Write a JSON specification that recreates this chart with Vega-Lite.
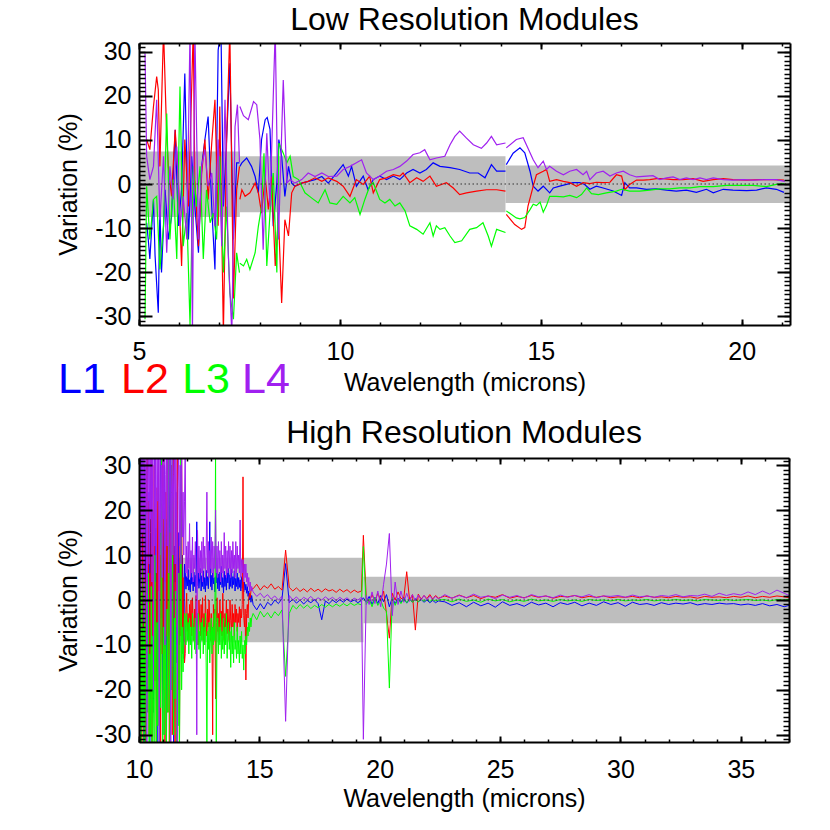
{
"$schema":"https://vega.github.io/schema/vega-lite/v6.json",
"autosize":"none",
"padding":{"left":139,"top":43,"right":691,"bottom":787},
"spacing":133,
"bounds":"flush",
"datasets":{
"lr":[
{"s":"L1","g":"A","x":5.19,"y":-8.8},{"s":"L1","g":"A","x":5.23,"y":-12.6},{"s":"L1","g":"A","x":5.27,"y":-17},{"s":"L1","g":"A","x":5.36,"y":-3.5},{"s":"L1","g":"A","x":5.4,"y":-16.3},{"s":"L1","g":"A","x":5.48,"y":-29.2},{"s":"L1","g":"A","x":5.52,"y":-5.1},{"s":"L1","g":"A","x":5.56,"y":-20.1},{"s":"L1","g":"A","x":5.65,"y":-1.3},{"s":"L1","g":"A","x":5.73,"y":-12.6},{"s":"L1","g":"A","x":5.81,"y":-7.4},{"s":"L1","g":"A","x":5.9,"y":12.3},{"s":"L1","g":"A","x":5.98,"y":-9.5},{"s":"L1","g":"A","x":6.06,"y":-1.3},{"s":"L1","g":"A","x":6.14,"y":25.1},{"s":"L1","g":"A","x":6.23,"y":-12.6},{"s":"L1","g":"A","x":6.31,"y":6.3},{"s":"L1","g":"A","x":6.39,"y":-5.1},{"s":"L1","g":"A","x":6.48,"y":-15.6},{"s":"L1","g":"A","x":6.56,"y":4},{"s":"L1","g":"A","x":6.64,"y":10.1},{"s":"L1","g":"A","x":6.72,"y":15.3},{"s":"L1","g":"A","x":6.81,"y":-5.1},{"s":"L1","g":"A","x":6.89,"y":-19.4},{"s":"L1","g":"A","x":6.97,"y":30.4},{"s":"L1","g":"A","x":7.04,"y":35},{"s":"L1","g":"A","x":7.1,"y":-5.1},{"s":"L1","g":"A","x":7.18,"y":10.1},{"s":"L1","g":"A","x":7.26,"y":27.4},{"s":"L1","g":"A","x":7.35,"y":-12.6},{"s":"L1","g":"A","x":7.43,"y":4.8},{"s":"L1","g":"A","x":7.5,"y":4.8},
{"s":"L1","g":"B","x":7.51,"y":4},{"s":"L1","g":"B","x":7.56,"y":4.8},{"s":"L1","g":"B","x":7.68,"y":5.9},{"s":"L1","g":"B","x":7.8,"y":4},{"s":"L1","g":"B","x":7.89,"y":1.7},{"s":"L1","g":"B","x":7.97,"y":-2},{"s":"L1","g":"B","x":8.05,"y":10.1},{"s":"L1","g":"B","x":8.14,"y":14.6},{"s":"L1","g":"B","x":8.19,"y":15.1},{"s":"L1","g":"B","x":8.26,"y":12.4},{"s":"L1","g":"B","x":8.34,"y":-9.6},{"s":"L1","g":"B","x":8.43,"y":0.2},{"s":"L1","g":"B","x":8.48,"y":10.1},{"s":"L1","g":"B","x":8.55,"y":6.3},{"s":"L1","g":"B","x":8.63,"y":-2.8},{"s":"L1","g":"B","x":8.72,"y":4},{"s":"L1","g":"B","x":8.8,"y":0.2},{"s":"L1","g":"B","x":8.88,"y":-0.5},{"s":"L1","g":"B","x":9.05,"y":0.2},{"s":"L1","g":"B","x":9.21,"y":0.6},{"s":"L1","g":"B","x":9.38,"y":1},{"s":"L1","g":"B","x":9.55,"y":1.7},{"s":"L1","g":"B","x":9.71,"y":0.2},{"s":"L1","g":"B","x":9.92,"y":2.5},{"s":"L1","g":"B","x":10.08,"y":4.4},{"s":"L1","g":"B","x":10.21,"y":1.8},{"s":"L1","g":"B","x":10.29,"y":4},{"s":"L1","g":"B","x":10.41,"y":-0.5},{"s":"L1","g":"B","x":10.58,"y":1.8},{"s":"L1","g":"B","x":10.7,"y":-1.3},{"s":"L1","g":"B","x":10.83,"y":1},{"s":"L1","g":"B","x":10.99,"y":1.8},{"s":"L1","g":"B","x":11.16,"y":1},{"s":"L1","g":"B","x":11.33,"y":1.8},{"s":"L1","g":"B","x":11.49,"y":1},{"s":"L1","g":"B","x":11.66,"y":2.5},{"s":"L1","g":"B","x":11.82,"y":3.3},{"s":"L1","g":"B","x":11.99,"y":2.5},{"s":"L1","g":"B","x":12.15,"y":3.3},{"s":"L1","g":"B","x":12.32,"y":4.8},{"s":"L1","g":"B","x":12.49,"y":4},{"s":"L1","g":"B","x":12.74,"y":3.7},{"s":"L1","g":"B","x":12.98,"y":3.3},{"s":"L1","g":"B","x":13.23,"y":2.5},{"s":"L1","g":"B","x":13.44,"y":2.5},{"s":"L1","g":"B","x":13.61,"y":1.4},{"s":"L1","g":"B","x":13.77,"y":4.4},{"s":"L1","g":"B","x":13.9,"y":2.9},{"s":"L1","g":"B","x":14.12,"y":2.9},
{"s":"L1","g":"C","x":14.14,"y":4.4},{"s":"L1","g":"C","x":14.31,"y":7},{"s":"L1","g":"C","x":14.48,"y":8.2},{"s":"L1","g":"C","x":14.6,"y":7.1},{"s":"L1","g":"C","x":14.73,"y":2.9},{"s":"L1","g":"C","x":14.81,"y":-0.5},{"s":"L1","g":"C","x":14.93,"y":-1.6},{"s":"L1","g":"C","x":15.06,"y":-0.5},{"s":"L1","g":"C","x":15.22,"y":-2},{"s":"L1","g":"C","x":15.31,"y":-0.9},{"s":"L1","g":"C","x":15.47,"y":-0.5},{"s":"L1","g":"C","x":15.64,"y":-0.1},{"s":"L1","g":"C","x":15.8,"y":0.3},{"s":"L1","g":"C","x":15.97,"y":0.3},{"s":"L1","g":"C","x":16.09,"y":-0.1},{"s":"L1","g":"C","x":16.22,"y":-1.2},{"s":"L1","g":"C","x":16.38,"y":-0.5},{"s":"L1","g":"C","x":16.55,"y":-0.9},{"s":"L1","g":"C","x":16.8,"y":-1.6},{"s":"L1","g":"C","x":17.01,"y":-2.6},{"s":"L1","g":"C","x":17.09,"y":0.3},{"s":"L1","g":"C","x":17.21,"y":-0.9},{"s":"L1","g":"C","x":17.38,"y":-0.9},{"s":"L1","g":"C","x":17.63,"y":-1.2},{"s":"L1","g":"C","x":17.88,"y":-1.1},{"s":"L1","g":"C","x":18.13,"y":-1.4},{"s":"L1","g":"C","x":18.37,"y":-1.6},{"s":"L1","g":"C","x":18.62,"y":-1.4},{"s":"L1","g":"C","x":18.87,"y":-1.9},{"s":"L1","g":"C","x":19.12,"y":-1.2},{"s":"L1","g":"C","x":19.29,"y":-2},{"s":"L1","g":"C","x":19.54,"y":-1.2},{"s":"L1","g":"C","x":19.78,"y":-1.4},{"s":"L1","g":"C","x":20.12,"y":-1.5},{"s":"L1","g":"C","x":20.37,"y":-1.4},{"s":"L1","g":"C","x":20.61,"y":-0.9},{"s":"L1","g":"C","x":20.86,"y":-1.2},{"s":"L1","g":"C","x":21.05,"y":-1.9},
{"s":"L2","g":"A","x":5.19,"y":10.1},{"s":"L2","g":"A","x":5.27,"y":7.8},{"s":"L2","g":"A","x":5.36,"y":17.6},{"s":"L2","g":"A","x":5.44,"y":24.4},{"s":"L2","g":"A","x":5.48,"y":21.4},{"s":"L2","g":"A","x":5.52,"y":4},{"s":"L2","g":"A","x":5.61,"y":35},{"s":"L2","g":"A","x":5.69,"y":10.8},{"s":"L2","g":"A","x":5.73,"y":4},{"s":"L2","g":"A","x":5.81,"y":-2.8},{"s":"L2","g":"A","x":5.9,"y":12.3},{"s":"L2","g":"A","x":5.98,"y":1},{"s":"L2","g":"A","x":6.06,"y":-18.6},{"s":"L2","g":"A","x":6.14,"y":10.1},{"s":"L2","g":"A","x":6.23,"y":-5.1},{"s":"L2","g":"A","x":6.35,"y":35},{"s":"L2","g":"A","x":6.39,"y":1},{"s":"L2","g":"A","x":6.48,"y":-14.1},{"s":"L2","g":"A","x":6.56,"y":2.5},{"s":"L2","g":"A","x":6.64,"y":10.1},{"s":"L2","g":"A","x":6.72,"y":-3.5},{"s":"L2","g":"A","x":6.81,"y":9.3},{"s":"L2","g":"A","x":6.89,"y":19.1},{"s":"L2","g":"A","x":6.97,"y":-9.5},{"s":"L2","g":"A","x":7.01,"y":17.6},{"s":"L2","g":"A","x":7.1,"y":-34},{"s":"L2","g":"A","x":7.18,"y":10.1},{"s":"L2","g":"A","x":7.26,"y":35},{"s":"L2","g":"A","x":7.35,"y":-26},{"s":"L2","g":"A","x":7.43,"y":-1.3},{"s":"L2","g":"A","x":7.5,"y":4},
{"s":"L2","g":"B","x":7.51,"y":-3.5},{"s":"L2","g":"B","x":7.56,"y":-1.3},{"s":"L2","g":"B","x":7.64,"y":-2.8},{"s":"L2","g":"B","x":7.76,"y":-2},{"s":"L2","g":"B","x":7.89,"y":0.2},{"s":"L2","g":"B","x":7.97,"y":-2},{"s":"L2","g":"B","x":8.05,"y":-6.6},{"s":"L2","g":"B","x":8.14,"y":1.7},{"s":"L2","g":"B","x":8.22,"y":-5.8},{"s":"L2","g":"B","x":8.3,"y":1.7},{"s":"L2","g":"B","x":8.39,"y":-18.6},{"s":"L2","g":"B","x":8.47,"y":-7.4},{"s":"L2","g":"B","x":8.55,"y":-27},{"s":"L2","g":"B","x":8.63,"y":-8.1},{"s":"L2","g":"B","x":8.72,"y":-11.8},{"s":"L2","g":"B","x":8.8,"y":-2},{"s":"L2","g":"B","x":8.88,"y":-0.5},{"s":"L2","g":"B","x":9.05,"y":0.2},{"s":"L2","g":"B","x":9.21,"y":0.6},{"s":"L2","g":"B","x":9.38,"y":1.4},{"s":"L2","g":"B","x":9.55,"y":0.6},{"s":"L2","g":"B","x":9.71,"y":1.4},{"s":"L2","g":"B","x":9.92,"y":0.6},{"s":"L2","g":"B","x":10.08,"y":-0.5},{"s":"L2","g":"B","x":10.25,"y":-2.8},{"s":"L2","g":"B","x":10.41,"y":1},{"s":"L2","g":"B","x":10.58,"y":-0.1},{"s":"L2","g":"B","x":10.74,"y":1.8},{"s":"L2","g":"B","x":10.83,"y":-2},{"s":"L2","g":"B","x":10.99,"y":1},{"s":"L2","g":"B","x":11.16,"y":1.4},{"s":"L2","g":"B","x":11.33,"y":2.1},{"s":"L2","g":"B","x":11.49,"y":1.8},{"s":"L2","g":"B","x":11.57,"y":2.5},{"s":"L2","g":"B","x":11.74,"y":0.3},{"s":"L2","g":"B","x":11.91,"y":1.4},{"s":"L2","g":"B","x":12.07,"y":0.6},{"s":"L2","g":"B","x":12.24,"y":1.8},{"s":"L2","g":"B","x":12.4,"y":-0.5},{"s":"L2","g":"B","x":12.65,"y":0.3},{"s":"L2","g":"B","x":12.82,"y":-0.9},{"s":"L2","g":"B","x":12.98,"y":-2.4},{"s":"L2","g":"B","x":13.15,"y":-2},{"s":"L2","g":"B","x":13.4,"y":-1.6},{"s":"L2","g":"B","x":13.65,"y":-1.3},{"s":"L2","g":"B","x":13.9,"y":-1.3},{"s":"L2","g":"B","x":14.12,"y":-1.6},
{"s":"L2","g":"C","x":14.14,"y":-6.9},{"s":"L2","g":"C","x":14.35,"y":-9.2},{"s":"L2","g":"C","x":14.52,"y":-10.3},{"s":"L2","g":"C","x":14.6,"y":-9.9},{"s":"L2","g":"C","x":14.68,"y":-5},{"s":"L2","g":"C","x":14.81,"y":-0.5},{"s":"L2","g":"C","x":14.89,"y":2.1},{"s":"L2","g":"C","x":15.06,"y":2.9},{"s":"L2","g":"C","x":15.14,"y":3.3},{"s":"L2","g":"C","x":15.22,"y":0.6},{"s":"L2","g":"C","x":15.39,"y":1},{"s":"L2","g":"C","x":15.56,"y":0.6},{"s":"L2","g":"C","x":15.72,"y":0.3},{"s":"L2","g":"C","x":15.89,"y":-0.5},{"s":"L2","g":"C","x":16.05,"y":0.3},{"s":"L2","g":"C","x":16.22,"y":0.1},{"s":"L2","g":"C","x":16.38,"y":0.4},{"s":"L2","g":"C","x":16.55,"y":0.3},{"s":"L2","g":"C","x":16.72,"y":0.4},{"s":"L2","g":"C","x":16.88,"y":2.1},{"s":"L2","g":"C","x":17.01,"y":1.8},{"s":"L2","g":"C","x":17.09,"y":-1.3},{"s":"L2","g":"C","x":17.21,"y":-0.1},{"s":"L2","g":"C","x":17.38,"y":0.9},{"s":"L2","g":"C","x":17.55,"y":0.9},{"s":"L2","g":"C","x":17.71,"y":1},{"s":"L2","g":"C","x":17.88,"y":1.2},{"s":"L2","g":"C","x":18.04,"y":1.2},{"s":"L2","g":"C","x":18.29,"y":1},{"s":"L2","g":"C","x":18.54,"y":1},{"s":"L2","g":"C","x":18.79,"y":1.2},{"s":"L2","g":"C","x":19.04,"y":0.6},{"s":"L2","g":"C","x":19.29,"y":1},{"s":"L2","g":"C","x":19.54,"y":1.2},{"s":"L2","g":"C","x":19.78,"y":1},{"s":"L2","g":"C","x":20.12,"y":0.9},{"s":"L2","g":"C","x":20.45,"y":1},{"s":"L2","g":"C","x":20.78,"y":1},{"s":"L2","g":"C","x":21.05,"y":0.9},
{"s":"L3","g":"A","x":5.15,"y":-30.7},{"s":"L3","g":"A","x":5.19,"y":-0.5},{"s":"L3","g":"A","x":5.27,"y":-12.6},{"s":"L3","g":"A","x":5.36,"y":-3.5},{"s":"L3","g":"A","x":5.44,"y":-2.8},{"s":"L3","g":"A","x":5.52,"y":-19.4},{"s":"L3","g":"A","x":5.61,"y":-9.5},{"s":"L3","g":"A","x":5.69,"y":16},{"s":"L3","g":"A","x":5.77,"y":-12.6},{"s":"L3","g":"A","x":5.85,"y":1},{"s":"L3","g":"A","x":5.94,"y":-17},{"s":"L3","g":"A","x":6.02,"y":22.1},{"s":"L3","g":"A","x":6.1,"y":-14.1},{"s":"L3","g":"A","x":6.19,"y":-6.6},{"s":"L3","g":"A","x":6.27,"y":-32},{"s":"L3","g":"A","x":6.35,"y":4},{"s":"L3","g":"A","x":6.43,"y":-5.1},{"s":"L3","g":"A","x":6.52,"y":4},{"s":"L3","g":"A","x":6.6,"y":-17},{"s":"L3","g":"A","x":6.68,"y":-1.3},{"s":"L3","g":"A","x":6.77,"y":-8.8},{"s":"L3","g":"A","x":6.85,"y":-6.6},{"s":"L3","g":"A","x":6.93,"y":-12.6},{"s":"L3","g":"A","x":7.01,"y":6.3},{"s":"L3","g":"A","x":7.1,"y":-20.1},{"s":"L3","g":"A","x":7.18,"y":-5.1},{"s":"L3","g":"A","x":7.26,"y":-24.7},{"s":"L3","g":"A","x":7.35,"y":-30.7},{"s":"L3","g":"A","x":7.43,"y":-15.6},{"s":"L3","g":"A","x":7.5,"y":-20.1},
{"s":"L3","g":"B","x":7.51,"y":-18},{"s":"L3","g":"B","x":7.6,"y":-18.6},{"s":"L3","g":"B","x":7.68,"y":-17.1},{"s":"L3","g":"B","x":7.76,"y":-19.4},{"s":"L3","g":"B","x":7.89,"y":-15.6},{"s":"L3","g":"B","x":7.97,"y":-9.6},{"s":"L3","g":"B","x":8.05,"y":-5.1},{"s":"L3","g":"B","x":8.11,"y":7},{"s":"L3","g":"B","x":8.18,"y":-18.6},{"s":"L3","g":"B","x":8.26,"y":-6.6},{"s":"L3","g":"B","x":8.34,"y":2.5},{"s":"L3","g":"B","x":8.43,"y":-20.1},{"s":"L3","g":"B","x":8.48,"y":9.3},{"s":"L3","g":"B","x":8.59,"y":7},{"s":"L3","g":"B","x":8.68,"y":4.8},{"s":"L3","g":"B","x":8.76,"y":6.3},{"s":"L3","g":"B","x":8.84,"y":1.7},{"s":"L3","g":"B","x":8.97,"y":1},{"s":"L3","g":"B","x":9.13,"y":-2},{"s":"L3","g":"B","x":9.3,"y":-3.2},{"s":"L3","g":"B","x":9.46,"y":-4.3},{"s":"L3","g":"B","x":9.63,"y":-1.3},{"s":"L3","g":"B","x":9.75,"y":-4.3},{"s":"L3","g":"B","x":9.92,"y":-4.6},{"s":"L3","g":"B","x":10.08,"y":-2.8},{"s":"L3","g":"B","x":10.25,"y":-4.3},{"s":"L3","g":"B","x":10.37,"y":-3.1},{"s":"L3","g":"B","x":10.5,"y":-6.9},{"s":"L3","g":"B","x":10.62,"y":-3.5},{"s":"L3","g":"B","x":10.74,"y":-0.5},{"s":"L3","g":"B","x":10.83,"y":0.3},{"s":"L3","g":"B","x":10.99,"y":-3.5},{"s":"L3","g":"B","x":11.12,"y":-4.3},{"s":"L3","g":"B","x":11.24,"y":-3.5},{"s":"L3","g":"B","x":11.37,"y":-5},{"s":"L3","g":"B","x":11.49,"y":-4.3},{"s":"L3","g":"B","x":11.62,"y":-6.1},{"s":"L3","g":"B","x":11.74,"y":-9.5},{"s":"L3","g":"B","x":11.91,"y":-10.3},{"s":"L3","g":"B","x":12.07,"y":-11.4},{"s":"L3","g":"B","x":12.24,"y":-8.8},{"s":"L3","g":"B","x":12.32,"y":-11.8},{"s":"L3","g":"B","x":12.4,"y":-9.5},{"s":"L3","g":"B","x":12.49,"y":-10.3},{"s":"L3","g":"B","x":12.61,"y":-9.9},{"s":"L3","g":"B","x":12.74,"y":-11.8},{"s":"L3","g":"B","x":12.86,"y":-13.3},{"s":"L3","g":"B","x":13.03,"y":-12.9},{"s":"L3","g":"B","x":13.23,"y":-10.3},{"s":"L3","g":"B","x":13.4,"y":-9.9},{"s":"L3","g":"B","x":13.56,"y":-8.8},{"s":"L3","g":"B","x":13.69,"y":-11.8},{"s":"L3","g":"B","x":13.77,"y":-14.1},{"s":"L3","g":"B","x":13.9,"y":-10.3},{"s":"L3","g":"B","x":14.12,"y":-11},
{"s":"L3","g":"C","x":14.14,"y":-6.1},{"s":"L3","g":"C","x":14.39,"y":-7.7},{"s":"L3","g":"C","x":14.48,"y":-7.9},{"s":"L3","g":"C","x":14.6,"y":-7.6},{"s":"L3","g":"C","x":14.73,"y":-5.8},{"s":"L3","g":"C","x":14.81,"y":-4.6},{"s":"L3","g":"C","x":14.89,"y":-4.9},{"s":"L3","g":"C","x":14.98,"y":-4.1},{"s":"L3","g":"C","x":15.06,"y":-6.4},{"s":"L3","g":"C","x":15.14,"y":-4.9},{"s":"L3","g":"C","x":15.22,"y":-2.8},{"s":"L3","g":"C","x":15.39,"y":-2.8},{"s":"L3","g":"C","x":15.56,"y":-2.9},{"s":"L3","g":"C","x":15.72,"y":-2.6},{"s":"L3","g":"C","x":15.89,"y":-3.1},{"s":"L3","g":"C","x":16.01,"y":-2.4},{"s":"L3","g":"C","x":16.14,"y":-0.9},{"s":"L3","g":"C","x":16.26,"y":-2.2},{"s":"L3","g":"C","x":16.43,"y":-2.4},{"s":"L3","g":"C","x":16.63,"y":-2},{"s":"L3","g":"C","x":16.88,"y":-1.6},{"s":"L3","g":"C","x":17.01,"y":-1.2},{"s":"L3","g":"C","x":17.21,"y":-1.6},{"s":"L3","g":"C","x":17.46,"y":-1.6},{"s":"L3","g":"C","x":17.71,"y":-1.4},{"s":"L3","g":"C","x":17.96,"y":-1.1},{"s":"L3","g":"C","x":18.21,"y":-1.1},{"s":"L3","g":"C","x":18.46,"y":-0.9},{"s":"L3","g":"C","x":18.71,"y":-0.9},{"s":"L3","g":"C","x":18.96,"y":-0.6},{"s":"L3","g":"C","x":19.29,"y":-0.6},{"s":"L3","g":"C","x":19.62,"y":-0.3},{"s":"L3","g":"C","x":19.95,"y":-0.3},{"s":"L3","g":"C","x":20.28,"y":-0.3},{"s":"L3","g":"C","x":20.61,"y":-0.6},{"s":"L3","g":"C","x":20.86,"y":-0.1},{"s":"L3","g":"C","x":21.05,"y":0.1},
{"s":"L4","g":"A","x":5.15,"y":29.6},{"s":"L4","g":"A","x":5.19,"y":6.3},{"s":"L4","g":"A","x":5.27,"y":1},{"s":"L4","g":"A","x":5.36,"y":4},{"s":"L4","g":"A","x":5.44,"y":19.1},{"s":"L4","g":"A","x":5.52,"y":-8.1},{"s":"L4","g":"A","x":5.61,"y":6.3},{"s":"L4","g":"A","x":5.69,"y":-15.6},{"s":"L4","g":"A","x":5.77,"y":4},{"s":"L4","g":"A","x":5.85,"y":-3.5},{"s":"L4","g":"A","x":5.94,"y":8.5},{"s":"L4","g":"A","x":6.02,"y":-9.5},{"s":"L4","g":"A","x":6.1,"y":-2.8},{"s":"L4","g":"A","x":6.19,"y":-12.6},{"s":"L4","g":"A","x":6.27,"y":35},{"s":"L4","g":"A","x":6.33,"y":-34},{"s":"L4","g":"A","x":6.39,"y":35},{"s":"L4","g":"A","x":6.48,"y":-12.6},{"s":"L4","g":"A","x":6.56,"y":4},{"s":"L4","g":"A","x":6.64,"y":7.8},{"s":"L4","g":"A","x":6.72,"y":-0.5},{"s":"L4","g":"A","x":6.81,"y":2.5},{"s":"L4","g":"A","x":6.89,"y":-9.5},{"s":"L4","g":"A","x":6.97,"y":10.1},{"s":"L4","g":"A","x":7.06,"y":-14.1},{"s":"L4","g":"A","x":7.14,"y":19.1},{"s":"L4","g":"A","x":7.22,"y":-15.6},{"s":"L4","g":"A","x":7.31,"y":-34},{"s":"L4","g":"A","x":7.39,"y":13},{"s":"L4","g":"A","x":7.45,"y":18},{"s":"L4","g":"A","x":7.5,"y":5},
{"s":"L4","g":"B","x":7.51,"y":17.6},{"s":"L4","g":"B","x":7.6,"y":15.5},{"s":"L4","g":"B","x":7.72,"y":14.6},{"s":"L4","g":"B","x":7.85,"y":18.7},{"s":"L4","g":"B","x":7.93,"y":18},{"s":"L4","g":"B","x":8.01,"y":10.1},{"s":"L4","g":"B","x":8.09,"y":-14.9},{"s":"L4","g":"B","x":8.18,"y":11.5},{"s":"L4","g":"B","x":8.26,"y":-5.1},{"s":"L4","g":"B","x":8.39,"y":35},{"s":"L4","g":"B","x":8.47,"y":-12.6},{"s":"L4","g":"B","x":8.59,"y":23.6},{"s":"L4","g":"B","x":8.68,"y":0.2},{"s":"L4","g":"B","x":8.76,"y":1},{"s":"L4","g":"B","x":8.88,"y":0.2},{"s":"L4","g":"B","x":9.05,"y":1},{"s":"L4","g":"B","x":9.21,"y":2.5},{"s":"L4","g":"B","x":9.38,"y":1.7},{"s":"L4","g":"B","x":9.55,"y":2.5},{"s":"L4","g":"B","x":9.71,"y":1.7},{"s":"L4","g":"B","x":9.92,"y":1.8},{"s":"L4","g":"B","x":10.08,"y":3.3},{"s":"L4","g":"B","x":10.25,"y":4},{"s":"L4","g":"B","x":10.41,"y":4.8},{"s":"L4","g":"B","x":10.54,"y":5.5},{"s":"L4","g":"B","x":10.66,"y":2.5},{"s":"L4","g":"B","x":10.83,"y":1},{"s":"L4","g":"B","x":10.99,"y":1.8},{"s":"L4","g":"B","x":11.16,"y":2.9},{"s":"L4","g":"B","x":11.33,"y":3.3},{"s":"L4","g":"B","x":11.49,"y":4},{"s":"L4","g":"B","x":11.66,"y":5.2},{"s":"L4","g":"B","x":11.82,"y":6.7},{"s":"L4","g":"B","x":11.99,"y":7.1},{"s":"L4","g":"B","x":12.11,"y":7.8},{"s":"L4","g":"B","x":12.24,"y":5.5},{"s":"L4","g":"B","x":12.4,"y":5.9},{"s":"L4","g":"B","x":12.61,"y":6.3},{"s":"L4","g":"B","x":12.74,"y":8.9},{"s":"L4","g":"B","x":12.86,"y":10.8},{"s":"L4","g":"B","x":12.98,"y":12},{"s":"L4","g":"B","x":13.15,"y":10.4},{"s":"L4","g":"B","x":13.32,"y":8.9},{"s":"L4","g":"B","x":13.52,"y":8.1},{"s":"L4","g":"B","x":13.65,"y":9.3},{"s":"L4","g":"B","x":13.77,"y":10.8},{"s":"L4","g":"B","x":13.9,"y":8.9},{"s":"L4","g":"B","x":14.12,"y":9.3},
{"s":"L4","g":"C","x":14.14,"y":8.2},{"s":"L4","g":"C","x":14.39,"y":10.1},{"s":"L4","g":"C","x":14.56,"y":10.5},{"s":"L4","g":"C","x":14.64,"y":8.9},{"s":"L4","g":"C","x":14.81,"y":5.5},{"s":"L4","g":"C","x":14.93,"y":3.7},{"s":"L4","g":"C","x":15.06,"y":5.2},{"s":"L4","g":"C","x":15.14,"y":3.3},{"s":"L4","g":"C","x":15.22,"y":4},{"s":"L4","g":"C","x":15.39,"y":2.9},{"s":"L4","g":"C","x":15.56,"y":2.1},{"s":"L4","g":"C","x":15.72,"y":2.9},{"s":"L4","g":"C","x":15.89,"y":3.3},{"s":"L4","g":"C","x":16.05,"y":2.1},{"s":"L4","g":"C","x":16.14,"y":2.9},{"s":"L4","g":"C","x":16.22,"y":1},{"s":"L4","g":"C","x":16.38,"y":2.5},{"s":"L4","g":"C","x":16.55,"y":2.9},{"s":"L4","g":"C","x":16.72,"y":1.8},{"s":"L4","g":"C","x":16.88,"y":2.5},{"s":"L4","g":"C","x":17.05,"y":2.9},{"s":"L4","g":"C","x":17.21,"y":2.1},{"s":"L4","g":"C","x":17.38,"y":1.6},{"s":"L4","g":"C","x":17.63,"y":1.8},{"s":"L4","g":"C","x":17.79,"y":1.9},{"s":"L4","g":"C","x":17.96,"y":1},{"s":"L4","g":"C","x":18.13,"y":1.4},{"s":"L4","g":"C","x":18.29,"y":1.6},{"s":"L4","g":"C","x":18.46,"y":1},{"s":"L4","g":"C","x":18.62,"y":1.4},{"s":"L4","g":"C","x":18.79,"y":1},{"s":"L4","g":"C","x":18.96,"y":1.4},{"s":"L4","g":"C","x":19.12,"y":1},{"s":"L4","g":"C","x":19.29,"y":1.4},{"s":"L4","g":"C","x":19.54,"y":1},{"s":"L4","g":"C","x":19.78,"y":0.9},{"s":"L4","g":"C","x":20.03,"y":1},{"s":"L4","g":"C","x":20.28,"y":0.9},{"s":"L4","g":"C","x":20.61,"y":1},{"s":"L4","g":"C","x":20.86,"y":1},{"s":"L4","g":"C","x":21.07,"y":0.6}
],
"hr":[
{"x":10.0,"L1":12,"L2":-8,"L3":-35,"L4":35},{"x":10.03,"L1":-30,"L2":20,"L3":5,"L4":10},{"x":10.06,"L1":25,"L2":35,"L3":-20,"L4":35},{"x":10.09,"L1":5,"L2":-15,"L3":-35,"L4":2},{"x":10.12,"L1":35,"L2":-35,"L3":8,"L4":35},{"x":10.15,"L1":-12,"L2":10,"L3":-28,"L4":15},{"x":10.18,"L1":18,"L2":28,"L3":-6,"L4":35},{"x":10.21,"L1":-35,"L2":-20,"L3":-35,"L4":-5},{"x":10.24,"L1":30,"L2":5,"L3":4,"L4":35},{"x":10.27,"L1":8,"L2":-35,"L3":-18,"L4":20},{"x":10.3,"L1":-20,"L2":15,"L3":-35,"L4":35},{"x":10.33,"L1":35,"L2":35,"L3":-4,"L4":-35},{"x":10.36,"L1":2,"L2":-10,"L3":-25,"L4":28},{"x":10.39,"L1":-15,"L2":22,"L3":6,"L4":35},{"x":10.42,"L1":24,"L2":-30,"L3":-35,"L4":8},{"x":10.45,"L1":-35,"L2":6,"L3":-12,"L4":35},{"x":10.48,"L1":15,"L2":-22,"L3":-30,"L4":18},{"x":10.51,"L1":35,"L2":35,"L3":3,"L4":35},{"x":10.54,"L1":-6,"L2":-35,"L3":-35,"L4":4},{"x":10.57,"L1":20,"L2":12,"L3":-8,"L4":35},{"x":10.6,"L1":-25,"L2":-8,"L3":-22,"L4":-20},{"x":10.63,"L1":10,"L2":30,"L3":-35,"L4":32},{"x":10.66,"L1":32,"L2":-18,"L3":10,"L4":12},{"x":10.69,"L1":-10,"L2":4,"L3":-15,"L4":35},{"x":10.72,"L1":16,"L2":-35,"L3":-35,"L4":6},{"x":10.75,"L1":-35,"L2":25,"L3":-5,"L4":35},{"x":10.78,"L1":8,"L2":-5,"L3":-28,"L4":22},{"x":10.81,"L1":28,"L2":35,"L3":2,"L4":35},{"x":10.84,"L1":-18,"L2":-28,"L3":-35,"L4":-35},{"x":10.87,"L1":14,"L2":10,"L3":-10,"L4":35},{"x":10.9,"L1":35,"L2":-35,"L3":-24,"L4":15},{"x":10.93,"L1":-4,"L2":18,"L3":35,"L4":30},{"x":10.96,"L1":22,"L2":-12,"L3":-18,"L4":5},{"x":10.99,"L1":-30,"L2":35,"L3":-35,"L4":35},{"x":11.02,"L1":6,"L2":-20,"L3":-6,"L4":18},{"x":11.05,"L1":30,"L2":2,"L3":-30,"L4":35},{"x":11.08,"L1":-12,"L2":-35,"L3":4,"L4":-10},{"x":11.11,"L1":18,"L2":24,"L3":-20,"L4":28},{"x":11.14,"L1":-35,"L2":-8,"L3":-35,"L4":35},{"x":11.17,"L1":10,"L2":35,"L3":-2,"L4":12},{"x":11.2,"L1":26,"L2":-25,"L3":-25,"L4":35},{"x":11.23,"L1":-8,"L2":6,"L3":35,"L4":6},{"x":11.26,"L1":16,"L2":-35,"L3":-12,"L4":30},{"x":11.29,"L1":35,"L2":15,"L3":-35,"L4":35},{"x":11.32,"L1":-20,"L2":-10,"L3":-8,"L4":-35},{"x":11.35,"L1":8,"L2":30,"L3":-20,"L4":24},{"x":11.38,"L1":-5,"L2":-30,"L3":35,"L4":35},{"x":11.41,"L1":20,"L2":4,"L3":-15,"L4":10},{"x":11.44,"L1":-35,"L2":35,"L3":-30,"L4":28},{"x":11.47,"L1":12,"L2":-15,"L3":-4,"L4":35},{"x":11.5,"L1":4,"L2":-35,"L3":-22,"L4":8},{"x":11.53,"L1":24,"L2":8,"L3":2,"L4":35},{"x":11.56,"L1":-14,"L2":-6,"L3":-35,"L4":16},{"x":11.59,"L1":9,"L2":35,"L3":-10,"L4":-35},{"x":11.62,"L1":-4,"L2":-20,"L3":-28,"L4":25},{"x":11.65,"L1":15,"L2":2,"L3":6,"L4":35},{"x":11.68,"L1":-10,"L2":-35,"L3":-35,"L4":12},{"x":11.71,"L1":6,"L2":12,"L3":-12,"L4":30},{"x":11.74,"L1":18,"L2":-8,"L3":35,"L4":8},{"x":11.77,"L1":-6,"L2":35,"L3":-20,"L4":35},{"x":11.8,"L1":10,"L2":-12,"L3":-6,"L4":14},{"x":11.83,"L1":2,"L2":5,"L3":-16,"L4":24},{"x":11.86,"L1":-13,"L2":-8,"L3":-9,"L4":10},{"x":11.89,"L1":8,"L2":-14,"L3":-3,"L4":22},
{"x":11.92,"L1":6.5,"L2":-11.9,"L3":-4,"L4":35},{"x":11.95,"L1":2.4,"L2":-2,"L3":-10,"L4":6},{"x":11.98,"L1":5.2,"L2":1.5,"L3":-3,"L4":12},{"x":12.01,"L1":3.1,"L2":-7,"L3":-9,"L4":5},{"x":12.04,"L1":6.8,"L2":-3,"L3":-5,"L4":13},{"x":12.07,"L1":2.2,"L2":-9,"L3":-12,"L4":7},{"x":12.1,"L1":4.5,"L2":-1,"L3":-4,"L4":17},{"x":12.13,"L1":1.8,"L2":-6,"L3":-10,"L4":5},{"x":12.16,"L1":7.2,"L2":0,"L3":-6,"L4":11},{"x":12.19,"L1":3.5,"L2":-8,"L3":-13,"L4":6},{"x":12.22,"L1":5,"L2":0.5,"L3":-3,"L4":14},{"x":12.25,"L1":2,"L2":-5,"L3":-9,"L4":4},{"x":12.28,"L1":6.2,"L2":-9,"L3":-6,"L4":10},{"x":12.31,"L1":3,"L2":-2,"L3":-11,"L4":7},{"x":12.34,"L1":5.5,"L2":-6,"L3":-4,"L4":13},{"x":12.37,"L1":1.6,"L2":1,"L3":-12,"L4":5},{"x":12.4,"L1":17.4,"L2":-7,"L3":-6,"L4":-30},{"x":12.43,"L1":3.2,"L2":-3,"L3":-10,"L4":15.5},{"x":12.46,"L1":6,"L2":-10,"L3":-3,"L4":6},{"x":12.49,"L1":2.6,"L2":0,"L3":-11,"L4":12},{"x":12.52,"L1":4.8,"L2":-4,"L3":-7,"L4":5},{"x":12.55,"L1":7,"L2":-8,"L3":-13,"L4":11},{"x":12.58,"L1":2,"L2":-1,"L3":-5,"L4":6},{"x":12.61,"L1":5.4,"L2":-6.5,"L3":-9,"L4":13},{"x":12.64,"L1":3,"L2":0.5,"L3":-4,"L4":4},{"x":12.67,"L1":6.5,"L2":-9,"L3":-12,"L4":14},{"x":12.7,"L1":2.4,"L2":-3,"L3":-6,"L4":7},{"x":12.73,"L1":5,"L2":-7,"L3":-10,"L4":12},{"x":12.76,"L1":1.8,"L2":1,"L3":-3,"L4":5},{"x":12.79,"L1":6.6,"L2":-5,"L3":-14,"L4":10},{"x":12.82,"L1":3.2,"L2":-8,"L3":-33,"L4":24},{"x":12.85,"L1":5.2,"L2":-2,"L3":-7,"L4":6},{"x":12.88,"L1":2.5,"L2":-6,"L3":-11,"L4":13},{"x":12.91,"L1":6.8,"L2":0,"L3":-5,"L4":5},{"x":12.94,"L1":17.4,"L2":-5,"L3":-14,"L4":11},{"x":12.97,"L1":3,"L2":-9,"L3":-8,"L4":7},{"x":13.0,"L1":5.5,"L2":-3,"L3":-4,"L4":14},{"x":13.03,"L1":2.2,"L2":-7,"L3":-12,"L4":6},{"x":13.06,"L1":6,"L2":-30,"L3":-6,"L4":13},{"x":13.09,"L1":3.6,"L2":-1,"L3":-10,"L4":5},{"x":13.12,"L1":5,"L2":-6,"L3":-3,"L4":12},{"x":13.15,"L1":1.8,"L2":-2,"L3":-9,"L4":7},{"x":13.18,"L1":5.2,"L2":-22,"L3":35,"L4":20},{"x":13.21,"L1":3.8,"L2":-5,"L3":-33,"L4":6},{"x":13.24,"L1":6.8,"L2":0.5,"L3":-8,"L4":12},{"x":13.27,"L1":2.5,"L2":-7,"L3":-4,"L4":5},{"x":13.3,"L1":5.8,"L2":-3,"L3":-12,"L4":13},{"x":13.33,"L1":2,"L2":-9,"L3":-6,"L4":7},{"x":13.36,"L1":6.2,"L2":0,"L3":-10,"L4":11},{"x":13.39,"L1":3.4,"L2":-6,"L3":-3,"L4":4},{"x":13.42,"L1":7.5,"L2":-2.5,"L3":-13,"L4":13},{"x":13.45,"L1":2.8,"L2":-8,"L3":-7,"L4":6},{"x":13.48,"L1":5,"L2":1.5,"L3":-11,"L4":10},{"x":13.51,"L1":1.6,"L2":-5,"L3":-4,"L4":5},{"x":13.54,"L1":6.4,"L2":-9,"L3":-12,"L4":15},{"x":13.57,"L1":3,"L2":-3,"L3":-6,"L4":7},{"x":13.6,"L1":5.5,"L2":-6,"L3":-10,"L4":12},{"x":13.63,"L1":2.2,"L2":0,"L3":-3,"L4":5},{"x":13.66,"L1":6.2,"L2":-7.5,"L3":-13,"L4":11},{"x":13.69,"L1":3.8,"L2":-2,"L3":-8,"L4":6},{"x":13.72,"L1":7,"L2":-5.5,"L3":-5,"L4":13},{"x":13.75,"L1":2.4,"L2":-9,"L3":-11,"L4":7},{"x":13.78,"L1":5.6,"L2":0,"L3":-7,"L4":12},{"x":13.81,"L1":3,"L2":-4.5,"L3":-15,"L4":5},{"x":13.84,"L1":6.8,"L2":-7,"L3":-6,"L4":11},{"x":13.87,"L1":2.6,"L2":-1,"L3":-12,"L4":6},{"x":13.9,"L1":5.2,"L2":-6,"L3":-8,"L4":13},{"x":13.93,"L1":3.4,"L2":-3,"L3":-14,"L4":7},{"x":13.96,"L1":6.5,"L2":-8,"L3":-5,"L4":10},{"x":13.99,"L1":2,"L2":-1,"L3":-11,"L4":5},{"x":14.02,"L1":4.8,"L2":-5,"L3":-9,"L4":13},{"x":14.05,"L1":3,"L2":-2,"L3":-13,"L4":6},{"x":14.08,"L1":6,"L2":-7,"L3":-6,"L4":12},{"x":14.11,"L1":2.4,"L2":-3,"L3":-12,"L4":7},{"x":14.14,"L1":5,"L2":-5,"L3":-9,"L4":10},{"x":14.17,"L1":2.8,"L2":-1.5,"L3":-14,"L4":6},{"x":14.2,"L1":4.5,"L2":-6,"L3":-8,"L4":17.8},{"x":14.23,"L1":2,"L2":-2,"L3":-12,"L4":5},{"x":14.26,"L1":5.2,"L2":-4,"L3":-7,"L4":9},{"x":14.29,"L1":2.6,"L2":-1,"L3":-13,"L4":6},{"x":14.32,"L1":4.8,"L2":27.4,"L3":-10,"L4":9},{"x":14.35,"L1":1.8,"L2":-3.5,"L3":-15.6,"L4":4},{"x":14.38,"L1":4,"L2":-6,"L3":-9,"L4":8},{"x":14.41,"L1":2.2,"L2":-2,"L3":-12,"L4":5},{"x":14.44,"L1":3.5,"L2":-17.8,"L3":-8,"L4":8},{"x":14.47,"L1":1.5,"L2":-3,"L3":-10,"L4":4},{"x":14.5,"L1":3,"L2":-1,"L3":-6,"L4":6},{"x":14.53,"L1":0.8,"L2":-4,"L3":-8,"L4":3},{"x":14.56,"L1":2,"L2":0.5,"L3":-5,"L4":5},{"x":14.59,"L1":0,"L2":1.5,"L3":-7,"L4":2},{"x":14.62,"L1":1.2,"L2":0.5,"L3":-4,"L4":4},{"x":14.65,"L1":-0.5,"L2":2,"L3":-6,"L4":2},{"x":14.68,"L1":1,"L2":2.5,"L3":-4,"L4":3},
{"x":14.74,"L1":-1,"L2":2.5,"L3":-3,"L4":1.8},{"x":14.89,"L1":-2.2,"L2":3.5,"L3":-4.4,"L4":0.8},{"x":15.04,"L1":-0.8,"L2":2.2,"L3":-2.5,"L4":1.5},{"x":15.19,"L1":-2,"L2":3.2,"L3":-3.8,"L4":0.5},{"x":15.34,"L1":-0.5,"L2":2.6,"L3":-2.8,"L4":1.2},{"x":15.49,"L1":-1.2,"L2":3.6,"L3":-4,"L4":0.2},{"x":15.64,"L1":0,"L2":2.4,"L3":-2.6,"L4":0.9},{"x":15.79,"L1":-0.8,"L2":3,"L3":-3.5,"L4":0},{"x":15.94,"L1":0.3,"L2":2.2,"L3":-2.2,"L4":0.8},{"x":16.09,"L1":8.1,"L2":11.1,"L3":-17,"L4":-27},{"x":16.24,"L1":-0.6,"L2":2.8,"L3":-3,"L4":1},{"x":16.39,"L1":0.2,"L2":2,"L3":-1.2,"L4":0},{"x":16.54,"L1":-0.7,"L2":2.7,"L3":-2,"L4":0.7},{"x":16.69,"L1":0,"L2":1.9,"L3":-1,"L4":-0.2},{"x":16.84,"L1":-0.9,"L2":2.5,"L3":-1.8,"L4":0.6},{"x":16.99,"L1":-0.1,"L2":1.8,"L3":-1.1,"L4":0.1},{"x":17.14,"L1":-0.6,"L2":2.6,"L3":-1.9,"L4":0.8},{"x":17.29,"L1":0.1,"L2":1.9,"L3":-1.2,"L4":-0.1},{"x":17.44,"L1":-0.8,"L2":2.4,"L3":-1.7,"L4":0.5},{"x":17.59,"L1":-4.4,"L2":1.8,"L3":-1,"L4":0},{"x":17.74,"L1":-0.2,"L2":2.5,"L3":-1.6,"L4":0.7},{"x":17.89,"L1":-0.8,"L2":2,"L3":-1,"L4":0.1},{"x":18.04,"L1":0,"L2":2.3,"L3":-1.5,"L4":0.6},{"x":18.19,"L1":-0.6,"L2":1.7,"L3":-0.9,"L4":-0.1},{"x":18.34,"L1":0.1,"L2":2.4,"L3":-1.4,"L4":0.6},{"x":18.49,"L1":-0.5,"L2":1.8,"L3":-0.8,"L4":0},{"x":18.64,"L1":0.2,"L2":2.3,"L3":-1.3,"L4":0.5},{"x":18.79,"L1":-0.4,"L2":1.6,"L3":-0.7,"L4":-0.2},{"x":18.94,"L1":0,"L2":2.2,"L3":-1.2,"L4":0.4},{"x":19.09,"L1":-0.6,"L2":1.7,"L3":-0.8,"L4":0},{"x":19.24,"L1":-0.1,"L2":2,"L3":-1.1,"L4":0.6},
{"x":19.32,"L1":0.5,"L2":14.4,"L3":11.9,"L4":-31},{"x":19.44,"L1":-0.5,"L2":0.5,"L3":-1,"L4":1},{"x":19.56,"L1":0.8,"L2":-0.5,"L3":0.2,"L4":-1},{"x":19.68,"L1":-1,"L2":1.2,"L3":-1.5,"L4":1.8},{"x":19.8,"L1":0.6,"L2":-0.3,"L3":0.5,"L4":-0.8},{"x":19.92,"L1":-0.8,"L2":1.5,"L3":-1.2,"L4":2},{"x":20.04,"L1":1,"L2":0,"L3":0,"L4":-1.5},{"x":20.16,"L1":-0.4,"L2":2,"L3":-1.8,"L4":3.5},{"x":20.28,"L1":1.2,"L2":-3,"L3":-2.5,"L4":8},{"x":20.4,"L1":-1.5,"L2":-8.5,"L3":-19.6,"L4":14.8},{"x":20.52,"L1":0.5,"L2":1.5,"L3":0.5,"L4":-3.5},{"x":20.64,"L1":-0.8,"L2":0,"L3":-1.2,"L4":4},{"x":20.76,"L1":0.4,"L2":1.8,"L3":0.2,"L4":-1},{"x":20.88,"L1":-0.6,"L2":0.3,"L3":-0.8,"L4":2},{"x":21.0,"L1":0.6,"L2":0.5,"L3":0.3,"L4":-0.5},{"x":21.12,"L1":-0.7,"L2":6.3,"L3":-0.6,"L4":1.5},{"x":21.24,"L1":0.2,"L2":0,"L3":0.2,"L4":-0.3},{"x":21.36,"L1":-0.5,"L2":1.2,"L3":-0.5,"L4":1.2},{"x":21.48,"L1":0.3,"L2":-6.7,"L3":0.1,"L4":-0.2},{"x":21.6,"L1":-0.4,"L2":1.3,"L3":-0.4,"L4":1.1},{"x":21.72,"L1":0.1,"L2":0.2,"L3":0.2,"L4":0},{"x":21.84,"L1":-0.5,"L2":1,"L3":-0.3,"L4":1},{"x":21.96,"L1":0,"L2":0.3,"L3":0.2,"L4":0},{"x":22.08,"L1":-0.6,"L2":1.2,"L3":-0.3,"L4":0.9},{"x":22.2,"L1":-0.1,"L2":0.2,"L3":0.1,"L4":0.1},{"x":22.32,"L1":-0.6,"L2":1,"L3":-0.2,"L4":0.8},{"x":22.44,"L1":-0.2,"L2":0.4,"L3":0,"L4":0.2},
{"x":22.7,"L1":-0.4,"L2":0.9,"L3":0.1,"L4":1.2},{"x":23.0,"L1":-1.2,"L2":0.4,"L3":-0.4,"L4":0.4},{"x":23.3,"L1":-0.6,"L2":1.1,"L3":0.2,"L4":1},{"x":23.6,"L1":-1.5,"L2":0.5,"L3":-0.3,"L4":0.5},{"x":23.9,"L1":-0.5,"L2":1,"L3":0,"L4":1.3},{"x":24.2,"L1":-1.3,"L2":0.3,"L3":-0.5,"L4":0.6},{"x":24.5,"L1":-0.7,"L2":0.9,"L3":0.2,"L4":0.9},{"x":24.8,"L1":-1.6,"L2":0.6,"L3":-0.2,"L4":0.3},{"x":25.1,"L1":-0.4,"L2":1.2,"L3":0.1,"L4":1.1},{"x":25.4,"L1":-1.2,"L2":0.4,"L3":-0.4,"L4":0.6},{"x":25.7,"L1":-0.8,"L2":0.8,"L3":0,"L4":1},{"x":26.0,"L1":-1.4,"L2":0.5,"L3":-0.3,"L4":0.4},{"x":26.3,"L1":-0.5,"L2":1,"L3":0.2,"L4":1.2},{"x":26.6,"L1":-1.1,"L2":0.6,"L3":-0.2,"L4":0.7},{"x":26.9,"L1":-0.7,"L2":0.9,"L3":0,"L4":0.9},{"x":27.2,"L1":-1.5,"L2":0.4,"L3":-0.3,"L4":0.5},{"x":27.5,"L1":-0.6,"L2":0.8,"L3":0.1,"L4":1.1},{"x":27.8,"L1":-1,"L2":0.7,"L3":-0.2,"L4":0.6},{"x":28.1,"L1":-0.5,"L2":1,"L3":0,"L4":1},{"x":28.4,"L1":-1.3,"L2":0.5,"L3":-0.3,"L4":0.7},{"x":28.7,"L1":-0.7,"L2":0.8,"L3":0.1,"L4":1.2},{"x":29.0,"L1":-1.2,"L2":0.6,"L3":-0.1,"L4":0.5},{"x":29.3,"L1":-0.4,"L2":0.9,"L3":0,"L4":0.9},{"x":29.6,"L1":-1,"L2":0.5,"L3":-0.2,"L4":0.8},{"x":29.9,"L1":-0.6,"L2":0.7,"L3":0.1,"L4":1},{"x":30.2,"L1":-1.4,"L2":0.6,"L3":-0.2,"L4":0.6},{"x":30.5,"L1":-0.5,"L2":0.8,"L3":0,"L4":1.1},{"x":30.8,"L1":-1,"L2":0.5,"L3":-0.1,"L4":0.7},{"x":31.1,"L1":-0.8,"L2":0.9,"L3":0.1,"L4":0.9},{"x":31.4,"L1":-1.2,"L2":0.6,"L3":-0.2,"L4":0.6},{"x":31.7,"L1":-0.6,"L2":0.7,"L3":0,"L4":1},{"x":32.0,"L1":-1,"L2":0.5,"L3":-0.1,"L4":0.8},{"x":32.3,"L1":-0.7,"L2":0.8,"L3":0.1,"L4":1.2},{"x":32.6,"L1":-0.9,"L2":0.6,"L3":-0.1,"L4":0.7},{"x":32.9,"L1":-0.6,"L2":0.7,"L3":0,"L4":1},{"x":33.2,"L1":-1.1,"L2":0.4,"L3":-0.2,"L4":0.9},{"x":33.5,"L1":-0.8,"L2":0.8,"L3":0.1,"L4":1.3},{"x":33.8,"L1":-1,"L2":0.6,"L3":0,"L4":0.8},{"x":34.1,"L1":-0.7,"L2":0.7,"L3":-0.1,"L4":1.5},{"x":34.4,"L1":-0.9,"L2":0.5,"L3":0.1,"L4":1},{"x":34.7,"L1":-0.8,"L2":0.8,"L3":-0.1,"L4":1.4},{"x":35.0,"L1":-1.1,"L2":0.6,"L3":0,"L4":1.1},{"x":35.3,"L1":-0.9,"L2":0.9,"L3":0.1,"L4":1.8},{"x":35.6,"L1":-1.2,"L2":0.5,"L3":-0.1,"L4":1.2},{"x":35.9,"L1":-0.8,"L2":0.8,"L3":0,"L4":2},{"x":36.2,"L1":-1.3,"L2":0.6,"L3":-0.2,"L4":1.3},{"x":36.5,"L1":-1,"L2":0.9,"L3":0.1,"L4":2.2},{"x":36.8,"L1":-1.5,"L2":0.7,"L3":0,"L4":1.5},{"x":37.0,"L1":-1.2,"L2":0.5,"L3":0.2,"L4":1}
]
},
"vconcat":[
{
"width":651,"height":282,
"title":{"text":"Low Resolution Modules"},
"layer":[
{"data":{"values":[{"x1":5,"x2":7.51,"lo":-7.5,"hi":7.4},{"x1":7.51,"x2":14.12,"lo":-6.4,"hi":6.3},{"x1":14.12,"x2":21.2,"lo":-4.3,"hi":4.2}]},
 "mark":{"type":"rect","color":"#bebebe"},
 "encoding":{
  "x":{"field":"x1","type":"quantitative","scale":{"domain":[5,21.2],"nice":false,"zero":false},"axis":{"orient":"bottom","values":[5,10,15,20],"tickSize":-6,"tickWidth":2,"labelPadding":20,"title":"Wavelength (microns)","titlePadding":6,"zindex":1}},
  "x2":{"field":"x2"},
  "y":{"field":"lo","type":"quantitative","scale":{"domain":[-32,32],"nice":false,"zero":false},"axis":{"orient":"left","values":[-30,-20,-10,0,10,20,30],"tickSize":-13,"tickWidth":2,"labelPadding":21,"labelExpr":"datum.value < 0 ? '-' + abs(datum.value) : '' + datum.value","title":"Variation (%)","titlePadding":13,"zindex":1}},
  "y2":{"field":"hi"}}},
{"data":{"name":"lr"},
 "mark":{"type":"line","strokeWidth":1.2,"clip":true},
 "encoding":{
  "x":{"field":"x","type":"quantitative","scale":{"domain":[5,21.2],"nice":false,"zero":false},"axis":{"orient":"bottom","values":[5,6,7,8,9,10,11,12,13,14,15,16,17,18,19,20,21],"tickSize":-3,"tickWidth":1.5,"labels":false,"domain":false,"title":null,"zindex":1}},
  "y":{"field":"y","type":"quantitative","scale":{"domain":[-32,32],"nice":false,"zero":false},"axis":{"orient":"left","values":[-31,-30,-29,-28,-27,-26,-25,-24,-23,-22,-21,-20,-19,-18,-17,-16,-15,-14,-13,-12,-11,-10,-9,-8,-7,-6,-5,-4,-3,-2,-1,0,1,2,3,4,5,6,7,8,9,10,11,12,13,14,15,16,17,18,19,20,21,22,23,24,25,26,27,28,29,30,31],"tickSize":-6,"tickWidth":1.5,"labels":false,"domain":false,"title":null,"zindex":1}},
  "color":{"field":"s","type":"nominal","scale":{"domain":["L1","L2","L3","L4"],"range":["#0000ff","#ff0000","#00ff00","#a020f0"]},"legend":null},
  "detail":{"field":"g","type":"nominal"}}},
{"data":{"values":[{"x1":5,"lo":0}]},
 "mark":{"type":"point","opacity":0},
 "encoding":{
  "x":{"field":"x1","type":"quantitative","scale":{"domain":[5,21.2],"nice":false,"zero":false},"axis":{"orient":"top","values":[5,10,15,20],"tickSize":-6,"tickWidth":2,"labels":false,"title":null,"zindex":1}},
  "y":{"field":"lo","type":"quantitative","scale":{"domain":[-32,32],"nice":false,"zero":false},"axis":{"orient":"right","values":[-30,-20,-10,0,10,20,30],"tickSize":-13,"tickWidth":2,"labels":false,"title":null,"zindex":1}}}},
{"data":{"values":[{"x1":5,"lo":0}]},
 "mark":{"type":"point","opacity":0},
 "encoding":{
  "x":{"field":"x1","type":"quantitative","scale":{"domain":[5,21.2],"nice":false,"zero":false},"axis":{"orient":"top","values":[5,6,7,8,9,10,11,12,13,14,15,16,17,18,19,20,21],"tickSize":-3,"tickWidth":1.5,"labels":false,"domain":false,"title":null,"zindex":1}},
  "y":{"field":"lo","type":"quantitative","scale":{"domain":[-32,32],"nice":false,"zero":false},"axis":{"orient":"right","values":[-31,-30,-29,-28,-27,-26,-25,-24,-23,-22,-21,-20,-19,-18,-17,-16,-15,-14,-13,-12,-11,-10,-9,-8,-7,-6,-5,-4,-3,-2,-1,0,1,2,3,4,5,6,7,8,9,10,11,12,13,14,15,16,17,18,19,20,21,22,23,24,25,26,27,28,29,30,31],"tickSize":-6,"tickWidth":1.5,"labels":false,"domain":false,"title":null,"zindex":1}}}},
{"data":{"values":[{"z":0}]},
 "mark":{"type":"rule","color":"#333333","strokeDash":[1.5,2.5],"strokeWidth":1},
 "encoding":{"y":{"field":"z","type":"quantitative","scale":{"domain":[-32,32],"nice":false,"zero":false},"axis":null}}},
{"data":{"values":[{"s":"L1","lx":3.58,"ly":-44.5},{"s":"L2","lx":5.15,"ly":-44.5},{"s":"L3","lx":6.67,"ly":-44.5},{"s":"L4","lx":8.16,"ly":-44.5}]},
 "mark":{"type":"text","fontSize":43,"font":"Liberation Sans","align":"center","baseline":"middle","clip":false},
 "encoding":{
  "x":{"field":"lx","type":"quantitative","scale":{"domain":[5,21.2],"nice":false,"zero":false},"axis":null},
  "y":{"field":"ly","type":"quantitative","scale":{"domain":[-32,32],"nice":false,"zero":false},"axis":null},
  "text":{"field":"s"},
  "color":{"field":"s","type":"nominal","scale":{"domain":["L1","L2","L3","L4"],"range":["#0000ff","#ff0000","#00ff00","#a020f0"]},"legend":null}}}
],
"resolve":{"axis":{"x":"independent","y":"independent"}}
},
{
"width":650,"height":284,
"title":{"text":"High Resolution Modules"},
"layer":[
{"data":{"values":[{"x1":10,"x2":19.32,"lo":-9.4,"hi":9.4},{"x1":19.32,"x2":37,"lo":-5.2,"hi":5.2}]},
 "mark":{"type":"rect","color":"#bebebe"},
 "encoding":{
  "x":{"field":"x1","type":"quantitative","scale":{"domain":[10,37],"nice":false,"zero":false},"axis":{"orient":"bottom","values":[10,15,20,25,30,35],"tickSize":-6,"tickWidth":2,"labelPadding":21,"title":"Wavelength (microns)","titlePadding":4,"zindex":1}},
  "x2":{"field":"x2"},
  "y":{"field":"lo","type":"quantitative","scale":{"domain":[-31.6,31.6],"nice":false,"zero":false},"axis":{"orient":"left","values":[-30,-20,-10,0,10,20,30],"tickSize":-13,"tickWidth":2,"labelPadding":21,"labelExpr":"datum.value < 0 ? '-' + abs(datum.value) : '' + datum.value","title":"Variation (%)","titlePadding":13,"zindex":1}},
  "y2":{"field":"hi"}}},
{"data":{"name":"hr"},
 "transform":[{"fold":["L1","L2","L3","L4"],"as":["s","y"]}],
 "mark":{"type":"line","strokeWidth":1,"clip":true},
 "encoding":{
  "x":{"field":"x","type":"quantitative","scale":{"domain":[10,37],"nice":false,"zero":false},"axis":{"orient":"bottom","values":[10,11,12,13,14,15,16,17,18,19,20,21,22,23,24,25,26,27,28,29,30,31,32,33,34,35,36,37],"tickSize":-3,"tickWidth":1.5,"labels":false,"domain":false,"title":null,"zindex":1}},
  "y":{"field":"y","type":"quantitative","scale":{"domain":[-31.6,31.6],"nice":false,"zero":false},"axis":{"orient":"left","values":[-31,-30,-29,-28,-27,-26,-25,-24,-23,-22,-21,-20,-19,-18,-17,-16,-15,-14,-13,-12,-11,-10,-9,-8,-7,-6,-5,-4,-3,-2,-1,0,1,2,3,4,5,6,7,8,9,10,11,12,13,14,15,16,17,18,19,20,21,22,23,24,25,26,27,28,29,30,31],"tickSize":-6,"tickWidth":1.5,"labels":false,"domain":false,"title":null,"zindex":1}},
  "color":{"field":"s","type":"nominal","scale":{"domain":["L1","L2","L3","L4"],"range":["#0000ff","#ff0000","#00ff00","#a020f0"]},"legend":null}}},
{"data":{"values":[{"x1":10,"lo":0}]},
 "mark":{"type":"point","opacity":0},
 "encoding":{
  "x":{"field":"x1","type":"quantitative","scale":{"domain":[10,37],"nice":false,"zero":false},"axis":{"orient":"top","values":[10,15,20,25,30,35],"tickSize":-6,"tickWidth":2,"labels":false,"title":null,"zindex":1}},
  "y":{"field":"lo","type":"quantitative","scale":{"domain":[-31.6,31.6],"nice":false,"zero":false},"axis":{"orient":"right","values":[-30,-20,-10,0,10,20,30],"tickSize":-13,"tickWidth":2,"labels":false,"title":null,"zindex":1}}}},
{"data":{"values":[{"x1":10,"lo":0}]},
 "mark":{"type":"point","opacity":0},
 "encoding":{
  "x":{"field":"x1","type":"quantitative","scale":{"domain":[10,37],"nice":false,"zero":false},"axis":{"orient":"top","values":[10,11,12,13,14,15,16,17,18,19,20,21,22,23,24,25,26,27,28,29,30,31,32,33,34,35,36,37],"tickSize":-3,"tickWidth":1.5,"labels":false,"domain":false,"title":null,"zindex":1}},
  "y":{"field":"lo","type":"quantitative","scale":{"domain":[-31.6,31.6],"nice":false,"zero":false},"axis":{"orient":"right","values":[-31,-30,-29,-28,-27,-26,-25,-24,-23,-22,-21,-20,-19,-18,-17,-16,-15,-14,-13,-12,-11,-10,-9,-8,-7,-6,-5,-4,-3,-2,-1,0,1,2,3,4,5,6,7,8,9,10,11,12,13,14,15,16,17,18,19,20,21,22,23,24,25,26,27,28,29,30,31],"tickSize":-6,"tickWidth":1.5,"labels":false,"domain":false,"title":null,"zindex":1}}}},
{"data":{"values":[{"z":0}]},
 "mark":{"type":"rule","color":"#333333","strokeDash":[1.5,2.5],"strokeWidth":1},
 "encoding":{"y":{"field":"z","type":"quantitative","scale":{"domain":[-31.6,31.6],"nice":false,"zero":false},"axis":null}}}
],
"resolve":{"axis":{"x":"independent","y":"independent"}}
}
],
"config":{
 "view":{"stroke":null},
 "font":"Liberation Sans",
 "axis":{"domainColor":"black","domainWidth":2,"tickColor":"black","labelColor":"black","titleColor":"black","labelFont":"Liberation Sans","titleFont":"Liberation Sans","labelFontSize":25,"titleFontSize":25,"titleFontWeight":"normal","grid":false,"labelFlush":false,"labelOverlap":false},
 "title":{"fontSize":32,"fontWeight":"normal","color":"black","font":"Liberation Sans","offset":3}
}
}
